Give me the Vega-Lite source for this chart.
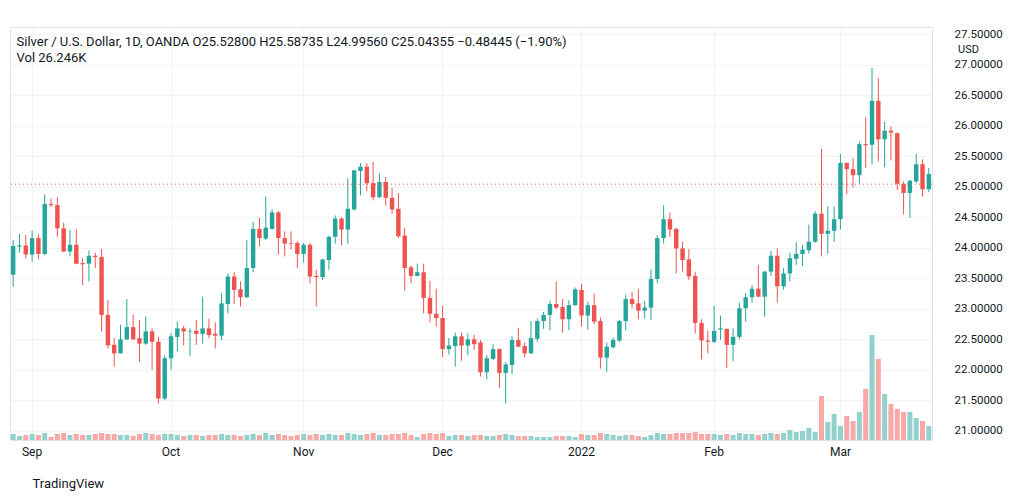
{
  "$schema": "https://vega.github.io/schema/vega-lite/v6.json",
  "width": 922,
  "height": 413,
  "autosize": {"type": "none"},
  "padding": {"left": 10, "top": 27, "right": 80, "bottom": 61},
  "background": "#ffffff",
  "config": {"font": "Roboto", "view": {"stroke": "#e0e3eb"}},
  "title": {
    "text": "Silver / U.S. Dollar, 1D, OANDA  O25.52800  H25.58735  L24.99560  C25.04355  −0.48445 (−1.90%)",
    "subtitle": "Vol  26.246K",
    "anchor": "start",
    "orient": "top",
    "offset": -38,
    "dx": 7,
    "fontSize": 13,
    "fontWeight": "normal",
    "color": "#131722",
    "subtitleFontSize": 13,
    "subtitleColor": "#131722",
    "subtitlePadding": 3
  },
  "data": {"values": [
    {"d":"2021-08-27","o":23.56,"h":24.13,"l":23.36,"c":24.03,"v":11.3},
    {"d":"2021-08-30","o":24.02,"h":24.23,"l":23.92,"c":24.04,"v":7.5},
    {"d":"2021-08-31","o":24.04,"h":24.21,"l":23.82,"c":23.89,"v":9.4},
    {"d":"2021-09-01","o":23.89,"h":24.28,"l":23.77,"c":24.16,"v":11.3},
    {"d":"2021-09-02","o":24.16,"h":24.22,"l":23.81,"c":23.90,"v":9.4},
    {"d":"2021-09-03","o":23.90,"h":24.88,"l":23.88,"c":24.72,"v":13.1},
    {"d":"2021-09-06","o":24.72,"h":24.81,"l":24.67,"c":24.70,"v":5.6},
    {"d":"2021-09-07","o":24.70,"h":24.83,"l":24.18,"c":24.32,"v":11.3},
    {"d":"2021-09-08","o":24.32,"h":24.41,"l":23.93,"c":23.94,"v":13.1},
    {"d":"2021-09-09","o":23.94,"h":24.29,"l":23.86,"c":24.05,"v":9.4},
    {"d":"2021-09-10","o":24.05,"h":24.30,"l":23.73,"c":23.74,"v":11.3},
    {"d":"2021-09-13","o":23.75,"h":23.83,"l":23.39,"c":23.73,"v":9.4},
    {"d":"2021-09-14","o":23.74,"h":23.96,"l":23.45,"c":23.87,"v":9.4},
    {"d":"2021-09-15","o":23.87,"h":23.92,"l":23.67,"c":23.85,"v":11.3},
    {"d":"2021-09-16","o":23.85,"h":23.98,"l":22.63,"c":22.90,"v":13.1},
    {"d":"2021-09-17","o":22.90,"h":23.14,"l":22.35,"c":22.40,"v":11.3},
    {"d":"2021-09-20","o":22.41,"h":22.52,"l":22.05,"c":22.27,"v":11.3},
    {"d":"2021-09-21","o":22.27,"h":22.74,"l":22.27,"c":22.50,"v":9.4},
    {"d":"2021-09-22","o":22.50,"h":23.16,"l":22.49,"c":22.70,"v":9.4},
    {"d":"2021-09-23","o":22.70,"h":22.90,"l":22.49,"c":22.50,"v":7.5},
    {"d":"2021-09-24","o":22.52,"h":22.82,"l":22.13,"c":22.43,"v":11.3},
    {"d":"2021-09-27","o":22.43,"h":22.87,"l":22.41,"c":22.63,"v":13.1},
    {"d":"2021-09-28","o":22.63,"h":22.68,"l":22.00,"c":22.46,"v":11.3},
    {"d":"2021-09-29","o":22.46,"h":22.54,"l":21.45,"c":21.53,"v":9.4},
    {"d":"2021-09-30","o":21.53,"h":22.24,"l":21.50,"c":22.19,"v":11.3},
    {"d":"2021-10-01","o":22.19,"h":22.60,"l":22.00,"c":22.55,"v":11.3},
    {"d":"2021-10-04","o":22.54,"h":22.79,"l":22.30,"c":22.68,"v":9.4},
    {"d":"2021-10-05","o":22.68,"h":22.72,"l":22.40,"c":22.63,"v":7.5},
    {"d":"2021-10-06","o":22.63,"h":22.68,"l":22.23,"c":22.64,"v":9.4},
    {"d":"2021-10-07","o":22.64,"h":22.82,"l":22.41,"c":22.59,"v":9.4},
    {"d":"2021-10-08","o":22.59,"h":23.20,"l":22.43,"c":22.68,"v":7.5},
    {"d":"2021-10-11","o":22.68,"h":22.84,"l":22.52,"c":22.57,"v":9.4},
    {"d":"2021-10-12","o":22.59,"h":22.78,"l":22.35,"c":22.56,"v":9.4},
    {"d":"2021-10-13","o":22.56,"h":23.25,"l":22.49,"c":23.09,"v":11.3},
    {"d":"2021-10-14","o":23.08,"h":23.58,"l":22.93,"c":23.53,"v":9.4},
    {"d":"2021-10-15","o":23.53,"h":23.60,"l":23.08,"c":23.31,"v":9.4},
    {"d":"2021-10-18","o":23.32,"h":23.45,"l":23.04,"c":23.19,"v":7.5},
    {"d":"2021-10-19","o":23.19,"h":24.13,"l":23.18,"c":23.67,"v":9.4},
    {"d":"2021-10-20","o":23.67,"h":24.43,"l":23.60,"c":24.31,"v":11.3},
    {"d":"2021-10-21","o":24.31,"h":24.49,"l":24.02,"c":24.16,"v":9.4},
    {"d":"2021-10-22","o":24.15,"h":24.84,"l":24.13,"c":24.33,"v":13.1},
    {"d":"2021-10-25","o":24.31,"h":24.63,"l":24.30,"c":24.58,"v":9.4},
    {"d":"2021-10-26","o":24.58,"h":24.60,"l":23.89,"c":24.16,"v":11.3},
    {"d":"2021-10-27","o":24.16,"h":24.27,"l":23.86,"c":24.07,"v":9.4},
    {"d":"2021-10-28","o":24.08,"h":24.27,"l":23.97,"c":24.07,"v":7.5},
    {"d":"2021-10-29","o":24.08,"h":24.11,"l":23.67,"c":23.90,"v":9.4},
    {"d":"2021-11-01","o":23.90,"h":24.08,"l":23.76,"c":24.05,"v":11.3},
    {"d":"2021-11-02","o":24.05,"h":24.08,"l":23.42,"c":23.53,"v":9.4},
    {"d":"2021-11-03","o":23.54,"h":23.64,"l":23.04,"c":23.52,"v":11.3},
    {"d":"2021-11-04","o":23.52,"h":23.82,"l":23.47,"c":23.81,"v":9.4},
    {"d":"2021-11-05","o":23.80,"h":24.20,"l":23.64,"c":24.18,"v":11.3},
    {"d":"2021-11-08","o":24.18,"h":24.53,"l":24.07,"c":24.48,"v":9.4},
    {"d":"2021-11-09","o":24.48,"h":24.50,"l":24.04,"c":24.30,"v":9.4},
    {"d":"2021-11-10","o":24.30,"h":25.14,"l":24.07,"c":24.64,"v":13.1},
    {"d":"2021-11-11","o":24.63,"h":25.28,"l":24.61,"c":25.27,"v":11.3},
    {"d":"2021-11-12","o":25.26,"h":25.39,"l":24.86,"c":25.33,"v":9.4},
    {"d":"2021-11-15","o":25.33,"h":25.39,"l":24.93,"c":25.06,"v":11.3},
    {"d":"2021-11-16","o":25.06,"h":25.41,"l":24.78,"c":24.83,"v":13.1},
    {"d":"2021-11-17","o":24.83,"h":25.22,"l":24.82,"c":25.08,"v":9.4},
    {"d":"2021-11-18","o":25.08,"h":25.16,"l":24.69,"c":24.82,"v":9.4},
    {"d":"2021-11-19","o":24.82,"h":24.98,"l":24.56,"c":24.63,"v":11.3},
    {"d":"2021-11-22","o":24.64,"h":24.90,"l":24.16,"c":24.19,"v":11.3},
    {"d":"2021-11-23","o":24.20,"h":24.33,"l":23.30,"c":23.67,"v":13.1},
    {"d":"2021-11-24","o":23.68,"h":23.71,"l":23.42,"c":23.54,"v":9.4},
    {"d":"2021-11-25","o":23.54,"h":23.74,"l":23.53,"c":23.60,"v":5.6},
    {"d":"2021-11-26","o":23.60,"h":23.74,"l":22.93,"c":23.18,"v":11.3},
    {"d":"2021-11-29","o":23.18,"h":23.46,"l":22.78,"c":22.92,"v":13.1},
    {"d":"2021-11-30","o":22.92,"h":23.33,"l":22.71,"c":22.85,"v":11.3},
    {"d":"2021-12-01","o":22.85,"h":23.05,"l":22.21,"c":22.34,"v":13.1},
    {"d":"2021-12-02","o":22.34,"h":22.52,"l":22.25,"c":22.40,"v":7.5},
    {"d":"2021-12-03","o":22.39,"h":22.61,"l":22.05,"c":22.55,"v":9.4},
    {"d":"2021-12-06","o":22.55,"h":22.61,"l":22.15,"c":22.40,"v":9.4},
    {"d":"2021-12-07","o":22.40,"h":22.60,"l":22.24,"c":22.50,"v":7.5},
    {"d":"2021-12-08","o":22.50,"h":22.57,"l":22.33,"c":22.42,"v":9.4},
    {"d":"2021-12-09","o":22.45,"h":22.49,"l":21.89,"c":21.96,"v":9.4},
    {"d":"2021-12-10","o":21.96,"h":22.24,"l":21.84,"c":22.19,"v":7.5},
    {"d":"2021-12-13","o":22.18,"h":22.42,"l":22.16,"c":22.34,"v":7.5},
    {"d":"2021-12-14","o":22.34,"h":22.35,"l":21.70,"c":21.95,"v":9.4},
    {"d":"2021-12-15","o":21.95,"h":22.13,"l":21.45,"c":22.09,"v":11.3},
    {"d":"2021-12-16","o":22.08,"h":22.55,"l":21.93,"c":22.49,"v":9.4},
    {"d":"2021-12-17","o":22.49,"h":22.69,"l":22.37,"c":22.38,"v":7.5},
    {"d":"2021-12-20","o":22.39,"h":22.45,"l":22.20,"c":22.27,"v":7.5},
    {"d":"2021-12-21","o":22.27,"h":22.80,"l":22.26,"c":22.52,"v":7.5},
    {"d":"2021-12-22","o":22.51,"h":22.84,"l":22.46,"c":22.80,"v":5.6},
    {"d":"2021-12-23","o":22.80,"h":22.95,"l":22.67,"c":22.90,"v":5.6},
    {"d":"2021-12-27","o":22.90,"h":23.13,"l":22.65,"c":23.08,"v":5.6},
    {"d":"2021-12-28","o":23.08,"h":23.45,"l":23.00,"c":23.02,"v":7.5},
    {"d":"2021-12-29","o":23.03,"h":23.16,"l":22.61,"c":22.83,"v":7.5},
    {"d":"2021-12-30","o":22.83,"h":23.14,"l":22.65,"c":23.06,"v":7.5},
    {"d":"2021-12-31","o":23.06,"h":23.35,"l":23.05,"c":23.32,"v":5.6},
    {"d":"2022-01-03","o":23.31,"h":23.41,"l":22.71,"c":22.89,"v":11.3},
    {"d":"2022-01-04","o":22.89,"h":23.12,"l":22.66,"c":23.06,"v":9.4},
    {"d":"2022-01-05","o":23.06,"h":23.25,"l":22.75,"c":22.79,"v":9.4},
    {"d":"2022-01-06","o":22.80,"h":22.86,"l":22.02,"c":22.20,"v":13.1},
    {"d":"2022-01-07","o":22.20,"h":22.45,"l":21.97,"c":22.38,"v":11.3},
    {"d":"2022-01-10","o":22.37,"h":22.53,"l":22.35,"c":22.49,"v":9.4},
    {"d":"2022-01-11","o":22.48,"h":22.82,"l":22.46,"c":22.80,"v":7.5},
    {"d":"2022-01-12","o":22.80,"h":23.23,"l":22.65,"c":23.16,"v":9.4},
    {"d":"2022-01-13","o":23.16,"h":23.28,"l":23.01,"c":23.08,"v":9.4},
    {"d":"2022-01-14","o":23.09,"h":23.33,"l":22.83,"c":22.97,"v":7.5},
    {"d":"2022-01-17","o":22.97,"h":23.13,"l":22.84,"c":23.02,"v":5.6},
    {"d":"2022-01-18","o":23.02,"h":23.65,"l":22.82,"c":23.49,"v":9.4},
    {"d":"2022-01-19","o":23.49,"h":24.21,"l":23.42,"c":24.16,"v":13.1},
    {"d":"2022-01-20","o":24.16,"h":24.70,"l":24.07,"c":24.47,"v":11.3},
    {"d":"2022-01-21","o":24.47,"h":24.58,"l":24.18,"c":24.30,"v":11.3},
    {"d":"2022-01-24","o":24.31,"h":24.33,"l":23.58,"c":23.99,"v":13.1},
    {"d":"2022-01-25","o":23.99,"h":24.10,"l":23.61,"c":23.80,"v":13.1},
    {"d":"2022-01-26","o":23.81,"h":23.98,"l":23.47,"c":23.53,"v":13.1},
    {"d":"2022-01-27","o":23.54,"h":23.61,"l":22.60,"c":22.77,"v":15.0},
    {"d":"2022-01-28","o":22.77,"h":22.83,"l":22.17,"c":22.48,"v":11.3},
    {"d":"2022-01-31","o":22.48,"h":22.64,"l":22.27,"c":22.46,"v":11.3},
    {"d":"2022-02-01","o":22.46,"h":23.05,"l":22.44,"c":22.64,"v":11.3},
    {"d":"2022-02-02","o":22.66,"h":22.89,"l":22.49,"c":22.68,"v":9.4},
    {"d":"2022-02-03","o":22.67,"h":22.68,"l":22.03,"c":22.41,"v":11.3},
    {"d":"2022-02-04","o":22.41,"h":22.68,"l":22.14,"c":22.54,"v":9.4},
    {"d":"2022-02-07","o":22.54,"h":23.10,"l":22.50,"c":23.01,"v":13.1},
    {"d":"2022-02-08","o":23.01,"h":23.26,"l":22.79,"c":23.19,"v":11.3},
    {"d":"2022-02-09","o":23.19,"h":23.39,"l":23.10,"c":23.33,"v":11.3},
    {"d":"2022-02-10","o":23.33,"h":23.72,"l":23.19,"c":23.20,"v":9.4},
    {"d":"2022-02-11","o":23.20,"h":23.62,"l":22.87,"c":23.61,"v":11.3},
    {"d":"2022-02-14","o":23.61,"h":23.95,"l":23.54,"c":23.87,"v":13.1},
    {"d":"2022-02-15","o":23.87,"h":23.99,"l":23.10,"c":23.37,"v":11.3},
    {"d":"2022-02-16","o":23.37,"h":23.67,"l":23.31,"c":23.58,"v":13.1},
    {"d":"2022-02-17","o":23.58,"h":23.92,"l":23.45,"c":23.83,"v":18.8},
    {"d":"2022-02-18","o":23.82,"h":24.09,"l":23.72,"c":23.90,"v":15.0},
    {"d":"2022-02-21","o":23.90,"h":24.05,"l":23.70,"c":23.97,"v":16.9},
    {"d":"2022-02-22","o":23.96,"h":24.38,"l":23.91,"c":24.10,"v":22.5},
    {"d":"2022-02-23","o":24.10,"h":24.60,"l":24.08,"c":24.56,"v":15.0},
    {"d":"2022-02-24","o":24.56,"h":25.62,"l":23.86,"c":24.23,"v":82.5},
    {"d":"2022-02-25","o":24.23,"h":24.68,"l":23.90,"c":24.28,"v":33.8},
    {"d":"2022-02-28","o":24.28,"h":24.68,"l":24.10,"c":24.47,"v":48.8},
    {"d":"2022-03-01","o":24.47,"h":25.54,"l":24.30,"c":25.39,"v":26.2},
    {"d":"2022-03-02","o":25.39,"h":25.40,"l":24.88,"c":25.29,"v":45.0},
    {"d":"2022-03-03","o":25.29,"h":25.47,"l":24.99,"c":25.19,"v":35.6},
    {"d":"2022-03-04","o":25.19,"h":25.74,"l":25.05,"c":25.70,"v":52.5},
    {"d":"2022-03-07","o":25.70,"h":26.14,"l":25.31,"c":25.68,"v":95.6},
    {"d":"2022-03-08","o":25.69,"h":26.95,"l":25.37,"c":26.41,"v":196.9},
    {"d":"2022-03-09","o":26.41,"h":26.78,"l":25.42,"c":25.78,"v":151.9},
    {"d":"2022-03-10","o":25.78,"h":26.07,"l":25.32,"c":25.92,"v":86.3},
    {"d":"2022-03-11","o":25.92,"h":25.99,"l":25.43,"c":25.89,"v":67.5},
    {"d":"2022-03-14","o":25.88,"h":25.89,"l":24.95,"c":25.05,"v":58.1},
    {"d":"2022-03-15","o":25.05,"h":25.09,"l":24.55,"c":24.90,"v":52.5},
    {"d":"2022-03-16","o":24.90,"h":25.11,"l":24.49,"c":25.10,"v":52.5},
    {"d":"2022-03-17","o":25.09,"h":25.54,"l":25.06,"c":25.37,"v":41.3},
    {"d":"2022-03-18","o":25.37,"h":25.45,"l":24.84,"c":24.96,"v":35.6},
    {"d":"2022-03-21","o":24.96,"h":25.31,"l":24.91,"c":25.21,"v":26.2}
  ]},
  "layer": [
    {
      "mark": {"type": "bar", "width": {"band": 0.8}},
      "encoding": {
        "x": {
          "field": "d", "type": "ordinal",
          "scale": {"paddingInner": 0, "paddingOuter": 0},
          "axis": {
            "title": "TradingView",
            "titleAnchor": "start",
            "titleAlign": "left",
            "titleBaseline": "middle",
            "titleX": 22,
            "titleY": 43,
            "titleFontSize": 13,
            "titleFontWeight": "normal",
            "titleColor": "#131722",
            "values": ["2021-09-01","2021-10-01","2021-11-01","2021-12-01","2022-01-03","2022-02-01","2022-03-01"],
            "labelExpr": "datum.value == '2022-01-03' ? '2022' : utcFormat(toDate(datum.value), '%b')",
            "bandPosition": 0.5,
            "labelAngle": 0,
            "labelFontSize": 12,
            "labelColor": "#131722",
            "labelPadding": 6,
            "labelOverlap": false,
            "ticks": false,
            "domain": true,
            "domainColor": "#e0e3eb",
            "grid": true,
            "gridColor": "#f0f3fa"
          }
        },
        "y": {"field": "v", "type": "quantitative", "scale": {"domain": [0, 774], "nice": false}, "axis": null},
        "color": {"condition": {"test": "datum.c >= datum.o", "value": "#93d2cc"}, "value": "#f7a9a7"}
      }
    },
    {
      "layer": [
        {
          "mark": {"type": "rule", "strokeWidth": 1},
          "encoding": {
            "x": {"field": "d", "type": "ordinal"},
            "y": {
              "field": "l", "type": "quantitative",
              "scale": {"domain": [20.85, 27.62], "nice": false, "zero": false},
              "axis": {
                "orient": "right",
                "title": "USD",
                "titleAngle": 0,
                "titleAlign": "center",
                "titleBaseline": "middle",
                "titleX": 36,
                "titleY": 22,
                "titleFontSize": 11,
                "titleFontWeight": "normal",
                "titleColor": "#131722",
                "tickCount": 14,
                "format": ".5f",
                "labelFontSize": 11.5,
                "labelColor": "#131722",
                "labelPadding": 22,
                "labelOverlap": false,
                "labelSeparation": 0,
                "ticks": false,
                "domain": true,
                "domainColor": "#e0e3eb",
                "grid": true,
                "gridColor": "#f0f3fa"
              }
            },
            "y2": {"field": "h"},
            "color": {"condition": {"test": "datum.c >= datum.o", "value": "#26a69a"}, "value": "#ef5350"}
          }
        },
        {
          "mark": {"type": "bar", "width": {"band": 0.7}},
          "encoding": {
            "x": {"field": "d", "type": "ordinal"},
            "y": {"field": "o", "type": "quantitative"},
            "y2": {"field": "c"},
            "color": {"condition": {"test": "datum.c >= datum.o", "value": "#26a69a"}, "value": "#ef5350"}
          }
        },
        {
          "data": {"values": [{"p": 25.04355}]},
          "mark": {"type": "rule", "strokeDash": [1, 3], "color": "#ef5350", "strokeWidth": 1},
          "encoding": {"y": {"field": "p", "type": "quantitative"}}
        }
      ]
    }
  ],
  "resolve": {"scale": {"y": "independent"}}
}
